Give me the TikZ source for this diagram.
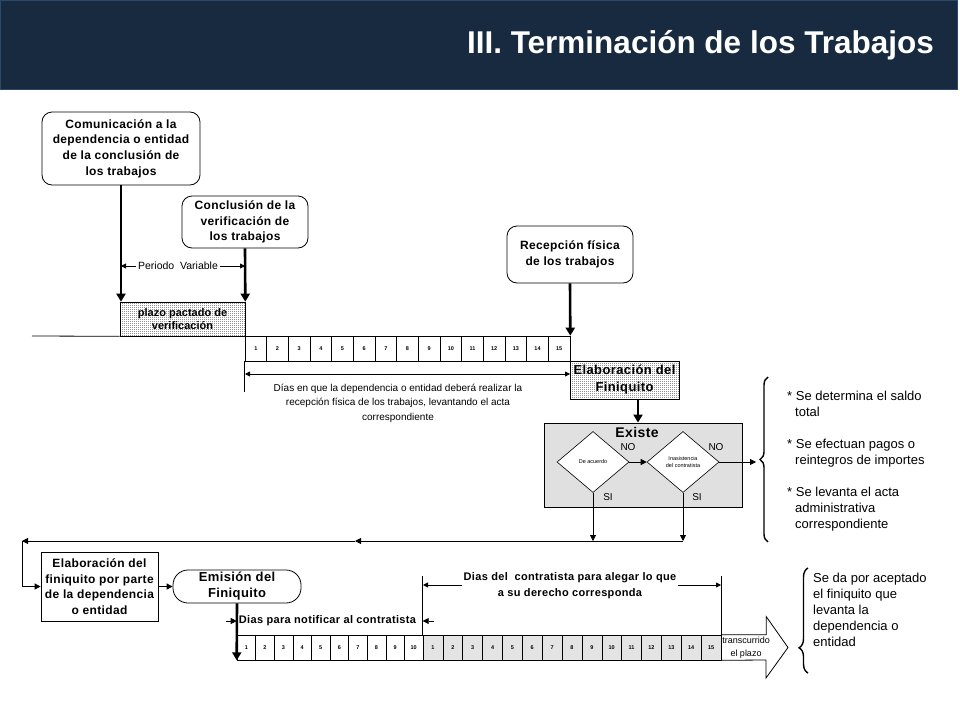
\documentclass[tikz,border=0pt]{standalone}
\usepackage{fontspec}
\setmainfont{Liberation Sans}
\newfontfamily\boxfont[LetterSpace=3]{Liberation Sans}
\usetikzlibrary{arrows.meta,shapes.geometric,patterns,decorations.pathreplacing}
\pgfdeclarelayer{bg}
\pgfsetlayers{bg,main}
\pgfdeclarepatternformonly{finedots}{\pgfpointorigin}{\pgfqpoint{2pt}{2pt}}{\pgfqpoint{2pt}{2pt}}{%
  \pgfpathrectangle{\pgfpointorigin}{\pgfqpoint{0.9pt}{0.9pt}}\pgfusepath{fill}}
\definecolor{navy}{HTML}{172A3F}
\definecolor{navyedge}{HTML}{2C4A68}
\definecolor{cellgrey}{HTML}{E4E4E4}
\definecolor{boxgrey}{HTML}{E0E0E0}
\tikzset{
  stage/.style={draw, rounded corners=10pt, align=center, line width=0.8pt, inner sep=0pt,
    font=\boxfont\bfseries\fontsize{12}{15.7}\selectfont},
  dotbox/.style={draw, pattern=finedots, align=center, inner sep=0pt, line width=0.6pt},
  cell/.style={draw, line width=0.6pt, minimum height=25pt, inner sep=0pt,
    font=\bfseries\fontsize{5.5}{6}\selectfont},
  decide/.style={diamond, draw, inner sep=0pt, align=center, fill=white, line width=0.6pt,
    minimum width=72pt, minimum height=61pt, font=\fontsize{5.5}{7}\selectfont},
  heavy/.style={line width=2.6pt, -{Triangle[length=8pt,width=9pt]}},
  link/.style={line width=0.8pt, -{Triangle[length=6pt,width=6pt]}},
  span/.style={line width=0.8pt, {Triangle[length=5pt,width=5pt]}-{Triangle[length=5pt,width=5pt]}},
  tag/.style={inner sep=0pt, font=\fontsize{10}{12}\selectfont},
  note/.style={align=left, inner sep=0pt, anchor=north west, font=\fontsize{13}{16}\selectfont},
  brc/.style={line width=1.4pt, decorate},
}
\begin{document}
\begin{tikzpicture}[x=1pt, y=-1pt]
        \useasboundingbox (0,0) rectangle (960,720);
        % title bar
        \fill[navy, draw=navyedge, line width=1pt] (0,0) rectangle (957,89);
        \node (title) [anchor=base east, inner sep=0pt, text=white, font=\bfseries\fontsize{31.5}{36}\selectfont] at (934,53) {III. Terminación de los Trabajos};

        % upper part
        \node (com) [stage, minimum width=158pt, minimum height=73pt] at (121,148.5) {Comunicación a la\\dependencia o entidad\\de la conclusión de\\los trabajos};
        \node (ver) [stage, minimum width=126pt, minimum height=52pt] at (245,222) {Conclusión de la\\verificación de\\los trabajos};
        \node (rec) [stage, minimum width=126pt, minimum height=57pt] at (570,254.5) {Recepción física\\de los trabajos};
        \node (plazo) [dotbox, minimum width=125pt, minimum height=34pt, font=\bfseries\fontsize{11}{13}\selectfont] at (182.5,319) {plazo pactado de\\verificación};
        \node (elab) [dotbox, minimum width=109pt, minimum height=38pt, font=\boxfont\bfseries\fontsize{13}{17}\selectfont] at (624.5,380) {Elaboración del\\Finiquito};
        \foreach \i in {1,...,15}
                \node (r\i) [cell, minimum width=21.667pt] at ({245+(\i-0.5)*21.667},348.5) {\i};
        \coordinate (base) at (32,336);
        \coordinate (pv1) at (121,266);
        \coordinate (pv2) at (245,266);
        \coordinate (dl1) at (245,374);
        \coordinate (dl2) at (570,374);
        \node (dias) [tag, align=center, font=\fontsize{10}{14.5}\selectfont] at (398,403) {Días en que la dependencia o entidad deberá realizar la\\recepción física de los trabajos, levantando el acta\\correspondiente};

        % decision block
        \node (exist) [draw, fill=boxgrey, line width=0.8pt, minimum width=198pt, minimum height=84pt] at (643,465) {};
        \node (existlbl) [inner sep=0pt, font=\boxfont\bfseries\fontsize{14}{16}\selectfont] at (637,432) {Existe};
        \node (acu) [decide] at (593,462) {De acuerdo};
        \node (ina) [decide] at (683,462) {Inasistencia\\del contratista};
        \node (no1) [tag] at (628,447) {NO};
        \node (no2) [tag] at (716,447) {NO};
        \node (si1) [tag] at (608,497) {SI};
        \node (si2) [tag] at (697,497) {SI};
        \coordinate (b1tip) at (756,462);
        \coordinate (b1bot) at (768,542);
        \coordinate (b1top) at (768,377);
        \node (list) [note] at (787,390.5) {* Se determina el saldo\\\hspace*{8pt}total\\[16pt]* Se efectuan pagos o\\\hspace*{8pt}reintegros de importes\\[16pt]* Se levanta el acta\\\hspace*{8pt}administrativa\\\hspace*{8pt}correspondiente};

        % lower part
        \coordinate (ret1) at (593,541);
        \coordinate (ret2) at (683,541);
        \coordinate (retm) at (355,541);
        \coordinate (retc) at (22,541);
        \node (fin) [draw, line width=0.8pt, align=center, inner sep=0pt, minimum width=117pt, minimum height=69pt, font=\boxfont\bfseries\fontsize{12}{15.7}\selectfont] at (99.5,586.5) {Elaboración del\\finiquito por parte\\de la dependencia\\o entidad};
        \node (emi) [stage, rounded corners=15pt, minimum width=128pt, minimum height=33pt, font=\boxfont\bfseries\fontsize{13}{16}\selectfont] at (237,586.5) {Emisión del\\Finiquito};
        \foreach \i in {1,...,10}
                \node (n\i) [cell, minimum width=18.6pt] at ({237+(\i-0.5)*18.6},647.5) {\i};
        \foreach \i in {1,...,15}
                \node (g\i) [cell, fill=cellgrey, minimum width=19.867pt] at ({423+(\i-0.5)*19.867},647.5) {\i};
        \node (notif) [tag, font=\boxfont\bfseries\fontsize{11}{13}\selectfont] at (327.5,621) {Dias para notificar al contratista};
        \coordinate (nt1) at (226,621);
        \coordinate (nt2) at (434,621);
        \coordinate (al1) at (423,585);
        \coordinate (al2) at (721,585);
        \node (alegar) [tag, fill=white, inner sep=2pt, align=center, font=\boxfont\bfseries\fontsize{11}{16}\selectfont] at (570,586) {Dias del\ \ contratista para alegar lo que\\a su derecho corresponda};
        \node (lapse) [tag, align=center, font=\fontsize{9}{13}\selectfont] at (746,647.5) {transcurrido\\el plazo};
        \coordinate (b2bot) at (808,673);
        \coordinate (b2top) at (808,568);
        \node (acept) [note] at (813,572.5) {Se da por aceptado\\el finiquito que\\levanta la\\dependencia o\\entidad};

        \begin{pgfonlayer}{bg}
                \draw[line width=0.8pt] (base) -- (plazo.south west);
                \draw[line width=0.8pt] (r1.south west) -- ++(0,31);
                \draw[line width=0.8pt] (g1.north west) -- ++(0,-59);
                \draw[line width=0.8pt] (g15.north east) -- ++(0,-59);
        \end{pgfonlayer}
        \draw[heavy] (com.south) -- (com.south |- plazo.north);
        \draw[heavy] (ver.south) -- (plazo.north east);
        \draw[heavy] (rec.south) -- (r15.north east);
        \draw[heavy] ([xshift=13.5pt]elab.south) -- ([xshift=-5pt]exist.north);
        \draw[span] (pv1) -- (pv2) node[midway, fill=white, inner sep=2pt, xshift=-5pt, font=\fontsize{10.5}{12}\selectfont] (pvlbl) {Periodo\ \ Variable};
        \draw[span] (dl1) -- (dl2);
        \draw[link] (acu.east) -- (ina.west);
        \draw[link] (ina.east) -- (b1tip);
        \draw[brc, decoration={brace, amplitude=8pt}] (b1bot) -- (b1top);
        \draw[link] (acu.south) -- (ret1);
        \draw[link] (ina.south) -- (ret2);
        \draw[link] (ret2) -- (retm);
        \draw[link] (retm) -- (retc);
        \draw[link] (retc) |- (fin.west);
        \draw[link] (fin.east) -- (emi.west);
        \draw[heavy] (emi.south) -- (n1.south west);
        \draw[link] (nt1) -- (n1.north west |- nt1);
        \draw[link] (nt2) -- (g1.north west |- nt2);
        \begin{pgfonlayer}{bg}
                \draw[span] (al1) -- (al2);
        \end{pgfonlayer}
        \draw[line width=0.8pt] (g15.north east) -- ++(45,0) -- ++(0,-18) -- (788,647.5) -- (766,678) -- (766,660) -- (g15.south east);
        \draw[brc, decoration={brace, amplitude=9pt, aspect=0.24}] (b2bot) -- (b2top);
\end{tikzpicture}
\end{document}
